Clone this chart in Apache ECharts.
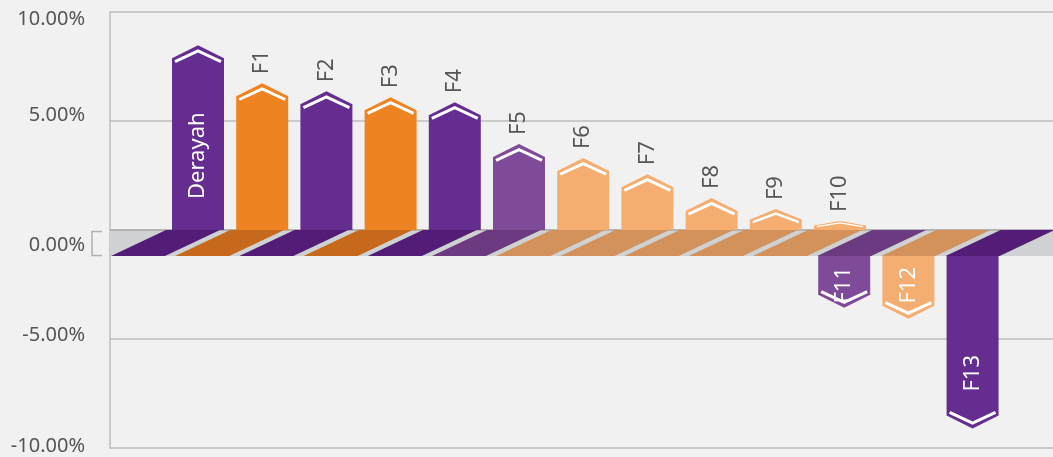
<!DOCTYPE html>
<html>
<head>
<meta charset="utf-8">
<script src="https://cdn.jsdelivr.net/npm/echarts@6/dist/echarts.min.js"></script>
<style>
  html, body { margin: 0; padding: 0; background: #f1f1f1; }
  #chart { width: 1053px; height: 457px; }
</style>
</head>
<body>
<div id="chart"></div>
<script>
// ---- data ----
const categories = ['Derayah', 'F1', 'F2', 'F3', 'F4', 'F5', 'F6', 'F7', 'F8', 'F9', 'F10', 'F11', 'F12', 'F13'];
const values = [8.47, 6.73, 6.36, 6.09, 5.86, 3.94, 3.30, 2.56, 1.47, 0.96, 0.41, -3.57, -4.07, -9.11];
const groups = ['A', 'B', 'A', 'B', 'A', 'C', 'D', 'D', 'D', 'D', 'D', 'C', 'D', 'A'];
const highlight = 'Derayah';
const yTicks = [-10, -5, 0, 5, 10];

// ---- styles ----
const barColor = { A: '#652d8f', B: '#ee8322', C: '#7f4a98', D: '#f4ae72' };
const floorColor = { A: '#531c76', B: '#c6691c', C: '#6b3a81', D: '#d3925b' };
const FONT = '"Noto Sans", "Open Sans", sans-serif';
const XMIN = -1.3707, XMAX = 13.318;
const DEPTH = 26, SHIFT = 55;
// vertical nudge of each tick label (px, + = down), in yTicks order
const tickNudge = [-2, -4, 15, -6, 7];

const chart = echarts.init(document.getElementById('chart'), null, { renderer: 'canvas' });

function renderBar(params, api) {
  const i = api.value(0), v = api.value(1);
  const name = categories[params.dataIndex];
  const g = groups[params.dataIndex];
  const p = api.coord([i, v]);
  const cx = p[0], ty = p[1];
  const y0 = api.coord([i, 0])[1];
  const u = api.size([1, 0])[0] / 64.2;
  const children = [];
  children.push({
    type: 'polygon',
    shape: { points: [[cx - 32 * u, y0], [cx + 22 * u, y0], [cx + 22 * u - SHIFT, y0 + DEPTH], [cx - 32 * u - SHIFT, y0 + DEPTH]] },
    style: { fill: floorColor[g] }
  });
  const half = 26 * u;
  let label;
  if (v >= 0) {
    const L = cx - half, R = cx + half;
    const barH = y0 - ty;
    const h = Math.min(13, barH * 0.5);
    const k = h / 13;
    children.push({
      type: 'polygon',
      shape: { points: [[L, y0], [L, ty + h], [cx, ty], [R, ty + h], [R, y0]] },
      style: { fill: barColor[g] }
    });
    children.push({
      type: 'polyline',
      shape: { points: [[L + 3, ty + h + 3.2 * k], [cx, ty + 5.5 * k], [R - 3, ty + h + 3.2 * k]] },
      style: { stroke: '#ffffff', lineWidth: Math.max(1.2, 3 * k), fill: null }
    });
    if (name === highlight) {
      label = { x: cx, y: y0 - 31, align: 'left', fill: '#ffffff' };
    } else {
      label = { x: cx, y: ty - 9, align: 'left', fill: '#555555' };
    }
  } else {
    const cn = cx - 5 * u - SHIFT;
    const L = cn - half, R = cn + half;
    const top = y0 + DEPTH;
    const h = 13;
    children.push({
      type: 'polygon',
      shape: { points: [[L, top], [L, ty - h], [cn, ty], [R, ty - h], [R, top]] },
      style: { fill: barColor[g] }
    });
    children.push({
      type: 'polyline',
      shape: { points: [[L + 3, ty - h - 3.2], [cn, ty - 5.5], [R - 3, ty - h - 3.2]] },
      style: { stroke: '#ffffff', lineWidth: 3, fill: null }
    });
    const textLen = name.length * 11;
    if (ty - 37 - textLen >= top + 12) {
      label = { x: cn, y: ty - 37, align: 'left', fill: '#ffffff' };
    } else {
      label = { x: cn, y: top + 11, align: 'right', fill: '#ffffff' };
    }
  }
  children.push({
    type: 'text',
    x: label.x, y: label.y,
    rotation: Math.PI / 2,
    style: {
      text: name, fill: label.fill, align: label.align, verticalAlign: 'middle',
      fontSize: 22, fontFamily: FONT
    }
  });
  return { type: 'group', children: children };
}

function renderFloor(params, api) {
  const a = api.coord([XMIN, 0]);
  const b = api.coord([XMAX, 0]);
  const y0 = a[1];
  return {
    type: 'group',
    children: [
      { type: 'rect', shape: { x: a[0], y: y0, width: b[0] - a[0], height: DEPTH }, style: { fill: '#d0d1d3' } },
      { type: 'line', shape: { x1: a[0], y1: y0, x2: b[0], y2: y0 }, style: { stroke: '#b4b4b4', lineWidth: 2 } },
      { type: 'polyline', shape: { points: [[a[0] - 8, y0 + 1.5], [a[0] - 18, y0 + 1.5], [a[0] - 18, y0 + DEPTH - 0.5], [a[0] - 8, y0 + DEPTH - 0.5]] },
        style: { stroke: '#b0b0b0', lineWidth: 1.5, fill: null } }
    ]
  };
}

const rich = {};
tickNudge.forEach(function (n, idx) {
  rich['t' + idx] = {
    color: '#555555', fontSize: 20, fontFamily: FONT,
    padding: n >= 0 ? [2 * n, 0, 0, 0] : [0, 0, -2 * n, 0]
  };
});

const option = {
  backgroundColor: '#f1f1f1',
  animation: false,
  grid: { left: 110, right: 0, top: 12, bottom: 9, containLabel: false },
  xAxis: { type: 'value', min: XMIN, max: XMAX, show: false },
  yAxis: {
    type: 'value',
    min: yTicks[0], max: yTicks[yTicks.length - 1], interval: 5,
    axisLine: { show: true, onZero: false, lineStyle: { color: '#bdbdbd', width: 1.5 } },
    axisTick: { show: false },
    splitLine: { show: true, lineStyle: { color: '#bdbdbd', width: 1.5 } },
    axisLabel: {
      formatter: function (v) {
        const idx = yTicks.indexOf(v);
        return '{t' + idx + '|' + v.toFixed(2) + '%}';
      },
      rich: rich,
      color: '#555555', fontSize: 20, fontFamily: FONT, margin: 25
    }
  },
  series: [
    {
      type: 'custom', name: 'floor', z: 1, clip: false,
      renderItem: renderFloor,
      data: [[0, 0]],
      silent: true
    },
    {
      type: 'custom', name: 'bars', z: 2, clip: false,
      renderItem: renderBar,
      data: values.map(function (v, i) { return [i, v]; })
    }
  ]
};
chart.setOption(option);
</script>
</body>
</html>
